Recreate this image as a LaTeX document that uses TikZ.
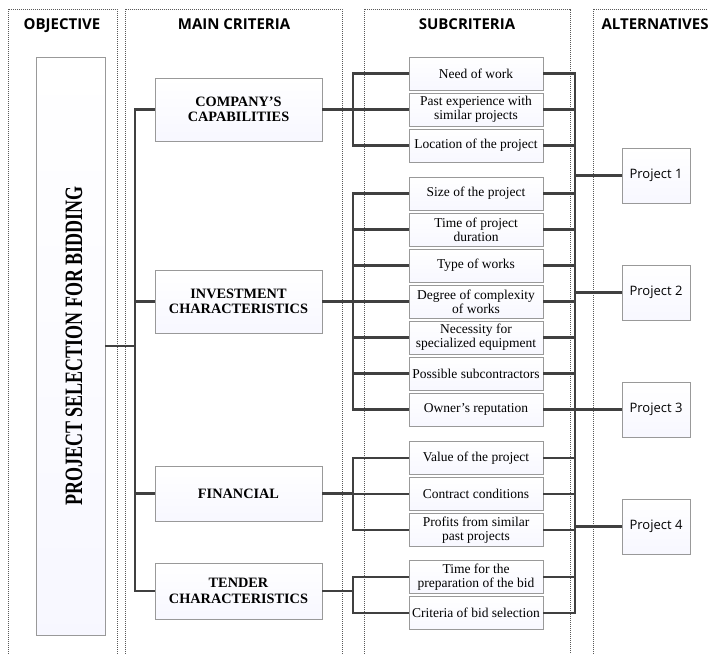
\documentclass[tikz,border=0pt]{standalone}
\usepackage{fontspec}
\setmainfont{Liberation Serif}
\newfontfamily\headfont{Open Sans}
\begin{document}
\begin{tikzpicture}[x=1pt,y=-1pt,
  frame/.style={draw=black!65,line width=0.7pt,dash pattern=on 1.1pt off 0.9pt},
  head/.style={font=\headfont\bfseries\fontsize{15}{17}\selectfont,anchor=base},
  boxbase/.style={draw=black!40,line width=0.7pt,top color=white,bottom color=black!5!blue!3!white,align=center,inner sep=0pt},
  objbox/.style={boxbase,minimum width=69pt,minimum height=578pt},
  critbox/.style={boxbase,minimum width=167pt,font=\bfseries\fontsize{14.3}{15.5}\selectfont},
  subbox/.style={boxbase,minimum width=134pt,minimum height=33pt,font=\fontsize{13.5}{14.2}\selectfont},
  altbox/.style={boxbase,minimum width=68pt,minimum height=55pt,font=\headfont\fontsize{13}{15}\selectfont},
  conn/.style={draw=black!75,line width=2.7pt}]
\useasboundingbox (0,0) rectangle (708,653);

% column frames
\draw[frame] (8,660) -- (8,9) -- (117,9) -- (117,660);
\draw[frame] (125,660) -- (125,9) -- (342,9) -- (342,660);
\draw[frame] (364,660) -- (364,9) -- (570,9) -- (570,660);
\draw[frame] (593,660) -- (593,9) -- (712,9);

% column headings
\node[head] (hobj) at (62,29) {OBJECTIVE};
\node[head] (hmain) at (234,29) {MAIN CRITERIA};
\node[head] (hsub) at (467,29) {SUBCRITERIA};
\node[head,anchor=base west] (halt) at (598,29) {ALTERNATIVES};

% objective
\node[objbox] (obj) at (70.5,346) {};
\node[rotate=90,font=\bfseries\fontsize{25}{27}\selectfont] (objtxt) at (74,346)
  {\scalebox{0.72}[1]{PROJECT SELECTION FOR BIDDING}};

% main criteria
\node[critbox,minimum height=63pt] (comp) at (238.5,109.5) {COMPANY’S\\CAPABILITIES};
\node[critbox,minimum height=63pt] (inv) at (238.5,301.5) {INVESTMENT\\CHARACTERISTICS};
\node[critbox,minimum height=55pt] (fin) at (238.5,493.5) {FINANCIAL};
\node[critbox,minimum height=56pt] (tend) at (238.5,591) {TENDER\\CHARACTERISTICS};

% subcriteria
\node[subbox] (s1) at (476,73.5) {Need of work};
\node[subbox] (s2) at (476,109.5) {Past experience with\\similar projects};
\node[subbox] (s3) at (476,145.5) {Location of the project};
\node[subbox] (s4) at (476,193.5) {Size of the project};
\node[subbox] (s5) at (476,229.5) {Time of project\\duration};
\node[subbox] (s6) at (476,265.5) {Type of works};
\node[subbox] (s7) at (476,301.5) {Degree of complexity\\of works};
\node[subbox] (s8) at (476,337.5) {Necessity for\\specialized equipment};
\node[subbox] (s9) at (476,373.5) {Possible subcontractors};
\node[subbox] (s10) at (476,409.5) {Owner’s reputation};
\node[subbox] (s11) at (476,458) {Value of the project};
\node[subbox] (s12) at (476,494) {Contract conditions};
\node[subbox] (s13) at (476,530) {Profits from similar\\past projects};
\node[subbox] (s14) at (476,577) {Time for the\\preparation of the bid};
\node[subbox] (s15) at (476,613) {Criteria of bid selection};

% alternatives
\node[altbox] (p1) at (656,175.5) {Project 1};
\node[altbox] (p2) at (656,292.5) {Project 2};
\node[altbox] (p3) at (656,409.5) {Project 3};
\node[altbox] (p4) at (656,526.5) {Project 4};

% trunk positions
\coordinate (mtrunk) at (135,0);
\coordinate (strunk) at (353,0);
\coordinate (rtrunk) at (575,0);

% objective to main criteria
\draw[conn] (obj.east) -- (obj.east -| mtrunk);
\draw[conn] (comp.west) -- (comp.west -| mtrunk) -- (tend.west -| mtrunk) -- (tend.west);
\draw[conn] (inv.west) -- (inv.west -| mtrunk);
\draw[conn] (fin.west) -- (fin.west -| mtrunk);

% main criteria to subcriteria
\draw[conn] (comp.east) -- (comp.east -| strunk);
\draw[conn] (s1.west) -- (s1.west -| strunk) -- (s3.west -| strunk) -- (s3.west);
\draw[conn] (s2.west) -- (s2.west -| strunk);

\draw[conn] (inv.east) -- (inv.east -| strunk);
\draw[conn] (s4.west) -- (s4.west -| strunk) -- (s10.west -| strunk) -- (s10.west);
\foreach \k in {5,...,9} \draw[conn] (s\k.west) -- (s\k.west -| strunk);

\draw[conn] (fin.east) -- (fin.east -| strunk);
\draw[conn] (s11.west) -- (s11.west -| strunk) -- (s13.west -| strunk) -- (s13.west);
\draw[conn] (s12.west) -- (s12.west -| strunk);

\draw[conn] (tend.east) -- (tend.east -| strunk);
\draw[conn] (s14.west) -- (s14.west -| strunk) -- (s15.west -| strunk) -- (s15.west);

% subcriteria to alternatives
\draw[conn] (s1.east) -- (s1.east -| rtrunk) -- (s15.east -| rtrunk) -- (s15.east);
\foreach \k in {2,...,14} \draw[conn] (s\k.east) -- (s\k.east -| rtrunk);
\foreach \k in {1,...,4} \draw[conn] (p\k.west) -- (p\k.west -| rtrunk);
\end{tikzpicture}
\end{document}
